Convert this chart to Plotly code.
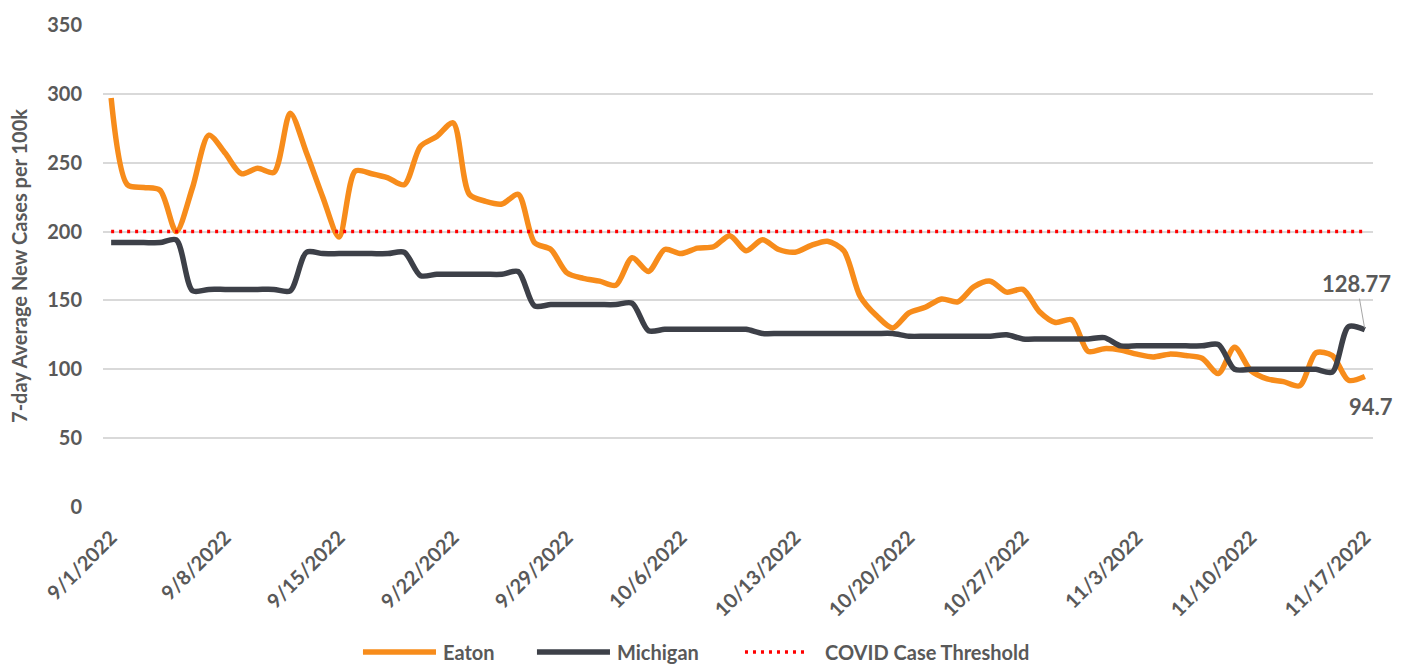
import pandas as pd
import plotly.graph_objects as go

start_date = "2022-09-01"
n_days = 78

eaton = [297, 234, 232, 230, 200, 232, 270, 257, 242, 246,
         243, 286, 257, 225, 196, 244, 242, 239, 234, 262,
         269, 279, 227, 222, 220, 227, 192, 187, 170, 166,
         164, 161, 181, 171, 187, 184, 188, 189, 197, 186,
         194, 187, 185, 190, 193, 186, 153, 139, 130, 141,
         145, 151, 149, 160, 164, 156, 158, 142, 134, 136,
         113, 115, 114, 111, 109, 111, 110, 108, 97, 116,
         99, 93, 91, 88, 112, 110, 92, 94.7]

michigan = [192, 192, 192, 192, 194, 157, 158, 158, 158, 158,
            158, 157, 185, 184, 184, 184, 184, 184, 185, 168,
            169, 169, 169, 169, 169, 171, 146, 147, 147, 147,
            147, 147, 148, 128, 129, 129, 129, 129, 129, 129,
            126, 126, 126, 126, 126, 126, 126, 126, 126, 124,
            124, 124, 124, 124, 124, 125, 122, 122, 122, 122,
            122, 123, 117, 117, 117, 117, 117, 117, 118, 100,
            100, 100, 100, 100, 100, 98, 131, 128.77]

threshold_value = 200

tick_dates = ["2022-09-01", "2022-09-08", "2022-09-15", "2022-09-22", "2022-09-29",
              "2022-10-06", "2022-10-13", "2022-10-20", "2022-10-27", "2022-11-03",
              "2022-11-10", "2022-11-17"]
tick_labels = ["9/1/2022", "9/8/2022", "9/15/2022", "9/22/2022", "9/29/2022",
               "10/6/2022", "10/13/2022", "10/20/2022", "10/27/2022", "11/3/2022",
               "11/10/2022", "11/17/2022"]

y_ticks = [0, 50, 100, 150, 200, 250, 300, 350]

legend_names = ["Eaton", "Michigan", "COVID Case Threshold"]

dates = pd.date_range(start_date, periods=n_days, freq="D")

ORANGE = "#F78C1B"
DARK = "#3D4048"
RED = "#FF0000"
GREY = "#595959"
FONT = "Lato"

fig = go.Figure()

fig.add_trace(go.Scatter(x=dates, y=eaton, mode="lines", name=legend_names[0],
                         line=dict(color=ORANGE, width=5.5, shape="spline", smoothing=0.8),
                         showlegend=False, hoverinfo="skip"))
fig.add_trace(go.Scatter(x=dates, y=michigan, mode="lines", name=legend_names[1],
                         line=dict(color=DARK, width=5.5, shape="spline", smoothing=0.8),
                         showlegend=False, hoverinfo="skip"))
fig.add_trace(go.Scatter(x=dates, y=[threshold_value] * n_days, mode="lines", name=legend_names[2],
                         line=dict(color=RED, width=3.5, dash="3px,5px"),
                         showlegend=False, hoverinfo="skip"))

x_lo = dates[0] - pd.Timedelta(hours=12)
x_hi = dates[-1] + pd.Timedelta(hours=12)

fig.update_layout(
    width=1409, height=666,
    margin=dict(l=103, r=36, t=19, b=159),
    paper_bgcolor="white", plot_bgcolor="white",
    font=dict(family=FONT, color=GREY, size=20, weight="bold"),
    xaxis=dict(
        range=[x_lo, x_hi],
        tickmode="array", tickvals=pd.to_datetime(tick_dates), ticktext=tick_labels,
        tickangle=-45, showgrid=False, zeroline=False, showline=False,
        ticks="", ticklabelstandoff=14,
        tickfont=dict(family=FONT, size=20, color=GREY, weight="bold"),
    ),
    yaxis=dict(
        range=[0, 350], tickmode="array", tickvals=y_ticks,
        showgrid=True, gridcolor="#D9D9D9", gridwidth=1.5,
        zeroline=False, showline=False, ticks="", ticklabelstandoff=20,
        tickfont=dict(family=FONT, size=20, color=GREY, weight="bold"),
        title=dict(text="7-day Average New Cases per 100k", standoff=14,
                   font=dict(family=FONT, size=20, color=GREY, weight="bold")),
    ),
)

# end-point labels
fig.add_annotation(x=dates[-1], y=michigan[-1], text=f"{michigan[-1]:g}",
                   showarrow=True, arrowhead=0, arrowwidth=1, arrowcolor="#A6A6A6",
                   ax=-8, ay=-46, standoff=2,
                   font=dict(family=FONT, size=22, color=GREY, weight="bold"))
fig.add_annotation(x=dates[-1], y=eaton[-1], text=f"{eaton[-1]:g}",
                   showarrow=False, xshift=6, yshift=-30,
                   font=dict(family=FONT, size=22, color=GREY, weight="bold"))

# manual legend
leg_y = -0.301
items = [
    (0.2047, 0.2622, 0.2661, ORANGE, 5.5, "solid", legend_names[0]),
    (0.3417, 0.3992, 0.4031, DARK, 5.5, "solid", legend_names[1]),
    (0.5055, 0.5559, 0.5669, RED, 3.5, "3px,5px", legend_names[2]),
]
for x0, x1, xt, col, w, dash, name in items:
    fig.add_shape(type="line", xref="paper", yref="paper", x0=x0, x1=x1, y0=leg_y, y1=leg_y,
                  line=dict(color=col, width=w, dash=dash))
    fig.add_annotation(xref="paper", yref="paper", x=xt, y=leg_y, text=name,
                       showarrow=False, xanchor="left", yanchor="middle",
                       font=dict(family=FONT, size=20, color=GREY, weight="bold"))

fig.write_html("out.html", config={"displayModeBar": False},
               post_script="document.body.style.margin='0';document.body.style.overflow='hidden';")
